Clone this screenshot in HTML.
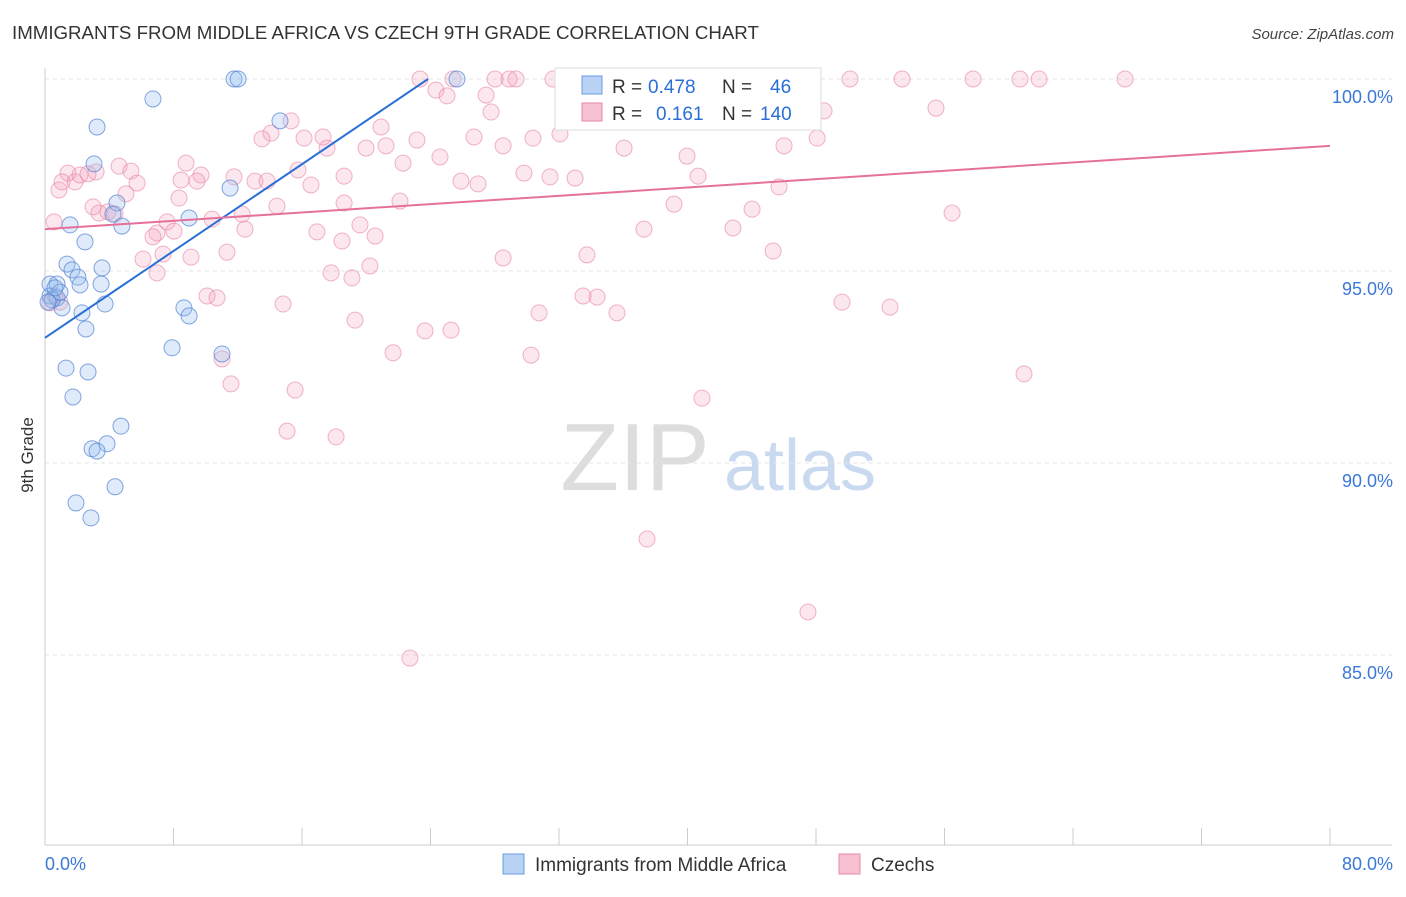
<!DOCTYPE html>
<html><head><meta charset="utf-8">
<style>
body{margin:0;background:#fff;font-family:"Liberation Sans",sans-serif;}
svg text{font-family:"Liberation Sans",sans-serif;}
</style></head>
<body>
<svg id="chart" width="1406" height="892" viewBox="0 0 1406 892" xmlns="http://www.w3.org/2000/svg">
<text x="12" y="39" font-size="18.7" fill="#333">IMMIGRANTS FROM MIDDLE AFRICA VS CZECH 9TH GRADE CORRELATION CHART</text>
<text x="1394" y="39" font-size="15" fill="#444" text-anchor="end" font-style="italic">Source: ZipAtlas.com</text>
<text transform="translate(33,455) rotate(-90)" font-size="17" fill="#333" text-anchor="middle">9th Grade</text>
<g>
<text x="635" y="490" font-size="96" fill="#ddd" text-anchor="middle" font-family="Liberation Serif">ZIP</text>
<text x="800" y="490" font-size="72" fill="#c9daf0" text-anchor="middle">atlas</text>
</g>
<g id="grid"></g>
<g id="axes"></g>
<g id="points"></g>
<g id="trends"></g>
<g>
<rect x="555" y="68" width="266" height="62" fill="#fff" stroke="#ddd"/>
<rect x="582" y="76" width="20" height="18" fill="#b8d3f5" stroke="#6a9be0"/>
<text x="612" y="93" font-size="19" fill="#333">R = </text><text x="648" y="93" font-size="19" fill="#2a6fd6">0.478</text>
<text x="722" y="93" font-size="19" fill="#333">N = </text><text x="770" y="93" font-size="19" fill="#2a6fd6">46</text>
<rect x="582" y="103" width="20" height="18" fill="#f7c0d0" stroke="#e98aa8"/>
<text x="612" y="120" font-size="19" fill="#333">R = </text><text x="656" y="120" font-size="19" fill="#2a6fd6">0.161</text>
<text x="722" y="120" font-size="19" fill="#333">N = </text><text x="760" y="120" font-size="19" fill="#2a6fd6">140</text>
</g>
<g>
<rect x="503" y="854" width="21" height="20" fill="#b8d3f5" stroke="#6a9be0"/>
<text x="535" y="871" font-size="19" fill="#333">Immigrants from Middle Africa</text>
<rect x="839" y="854" width="21" height="20" fill="#f7c0d0" stroke="#e98aa8"/>
<text x="871" y="871" font-size="19" fill="#333">Czechs</text>
</g>
</svg>
<script>
const yTicks=[100,95,90,85];
const xTickLabels=["0.0%","80.0%"];
const blueX=[11.77,12.02,25.65,6.72,3.24,14.63,3.05,11.52,4.48,4.23,4.79,1.56,8.97,2.49,1.37,3.55,1.68,2.05,0.31,0.75,2.18,3.49,0.31,0.75,1.06,3.74,8.65,8.97,2.30,2.55,7.91,11.02,1.31,2.68,1.74,4.73,3.86,2.93,3.24,4.36,1.93,2.86,0.44,0.93,0.19,0.62];
const blueY=[100,100,100,99.48,98.75,98.91,97.79,97.16,96.77,96.48,96.17,96.20,96.38,95.76,95.18,95.08,95.03,94.84,94.66,94.66,94.64,94.66,94.35,94.30,94.04,94.14,94.04,93.83,93.91,93.49,93.00,92.84,92.47,92.37,91.72,90.96,90.50,90.37,90.31,89.38,88.96,88.57,94.25,94.45,94.19,94.56];
const pinkX=[23.35,25.40,28.02,28.89,29.32,31.63,41.78,44.39,46.82,50.12,53.36,57.78,60.70,61.89,67.24,24.34,25.03,27.46,27.77,55.47,48.50,38.35,15.32,14.07,13.51,16.13,17.31,20.92,23.16,26.71,28.52,30.38,32.06,36.05,39.97,46.01,48.07,17.56,19.99,21.23,22.29,24.59,1.43,3.18,4.61,5.35,8.78,9.71,11.77,13.07,13.82,15.75,16.56,18.62,22.10,25.90,26.96,29.82,31.44,33.00,40.66,45.70,0.87,1.06,1.87,2.18,2.68,5.73,5.04,8.47,9.46,2.99,3.36,3.92,4.36,6.97,6.72,7.60,8.03,8.34,10.40,12.27,12.45,14.44,16.93,18.62,18.49,19.61,20.55,37.29,39.16,42.83,44.02,56.47,0.56,6.10,6.97,7.35,9.09,11.33,17.81,19.11,20.23,28.52,33.74,45.33,10.09,10.71,14.82,30.76,33.50,34.37,35.61,19.30,23.66,25.28,49.62,52.61,21.67,30.26,11.02,11.58,15.57,15.07,18.12,40.90,60.95,37.48,47.50,22.72,0.31,0.62,0.93];
const pinkY=[100,100,100,100,100,100,100,100,100,100,100,100,100,100,100,99.71,99.56,99.58,99.14,99.24,99.17,99.11,98.91,98.59,98.44,98.46,98.49,98.75,98.41,98.49,98.26,98.46,98.57,98.20,97.99,98.26,98.46,98.20,98.20,98.26,97.81,97.97,97.55,97.58,97.73,97.60,97.81,97.50,97.45,97.34,97.34,97.63,97.24,97.47,96.82,97.34,97.27,97.55,97.45,97.42,97.47,97.19,97.11,97.32,97.32,97.50,97.53,97.29,97.01,97.37,97.34,96.67,96.51,96.54,96.48,95.99,95.89,96.28,96.04,96.90,96.35,96.48,96.09,96.69,96.02,96.77,95.78,96.20,95.91,96.09,96.74,96.12,96.61,96.51,96.28,95.31,94.95,95.44,95.36,95.49,94.95,94.82,95.13,95.34,95.42,95.52,94.35,94.30,94.14,93.91,94.35,94.32,93.91,93.72,93.44,93.46,94.19,94.06,92.87,92.81,92.71,92.06,91.90,90.83,90.68,91.69,92.32,88.02,86.12,84.92,94.17,94.35,94.19];
const blueTrend=[[0,93.26],[23.85,100]];
const pinkTrend=[[0,96.09],[80,98.26]];

const NS="http://www.w3.org/2000/svg";
const X0=45,X1=1330,Y100=79,PX5=192;
function sx(v){return X0+(v/80)*(X1-X0);}
function sy(v){return Y100+(100-v)/5*PX5;}
function mk(tag,attrs,parent){const e=document.createElementNS(NS,tag);for(const k in attrs)e.setAttribute(k,attrs[k]);parent.appendChild(e);return e;}
const grid=document.getElementById('grid'),axes=document.getElementById('axes'),pts=document.getElementById('points'),tr=document.getElementById('trends');
yTicks.forEach(t=>{
  const l=mk('line',{x1:X0,x2:1392,y1:sy(t),y2:sy(t),stroke:'#e3e3e3','stroke-dasharray':'4,4'},grid);
  
  
  const tx=mk('text',{x:1393,y:sy(t)+24,'font-size':18,fill:'#3a78d8','text-anchor':'end'},axes);
  tx.textContent=t.toFixed(1)+'%';
  
  
});
const ax=mk('line',{x1:X0,x2:X0,y1:68,y2:845,stroke:'#ccc'},axes);


const bx=mk('line',{x1:X0,x2:1392,y1:845,y2:845,stroke:'#ccc'},axes);


for(let i=0;i<=10;i++){
  const tk=mk('line',{x1:sx(i*8),x2:sx(i*8),y1:828,y2:845,stroke:'#ccc'},axes);
  
  
}
[[0,'start',45],[80,'end',1393]].forEach((a,i)=>{
  const t=mk('text',{x:a[2],y:870,'font-size':18,fill:'#3a78d8','text-anchor':a[1]},axes);
  t.textContent=xTickLabels[i];
  
  
});
pinkX.forEach((x,i)=>{
  const c=mk('circle',{cx:sx(x),cy:sy(pinkY[i]),r:8,fill:'rgba(244,160,188,0.25)',stroke:'rgba(230,130,165,0.6)','stroke-width':1},pts);
  
  
});
blueX.forEach((x,i)=>{
  const c=mk('circle',{cx:sx(x),cy:sy(blueY[i]),r:8,fill:'rgba(150,190,240,0.3)',stroke:'rgba(80,130,210,0.7)','stroke-width':1},pts);
  
  
});
const bl=mk('line',{x1:sx(blueTrend[0][0]),y1:sy(blueTrend[0][1]),x2:sx(blueTrend[1][0]),y2:sy(blueTrend[1][1]),stroke:'#2a6fd6','stroke-width':2},tr);


const pl=mk('line',{x1:sx(pinkTrend[0][0]),y1:sy(pinkTrend[0][1]),x2:sx(pinkTrend[1][0]),y2:sy(pinkTrend[1][1]),stroke:'#e5719a','stroke-width':2},tr);


</script>
</body></html>
